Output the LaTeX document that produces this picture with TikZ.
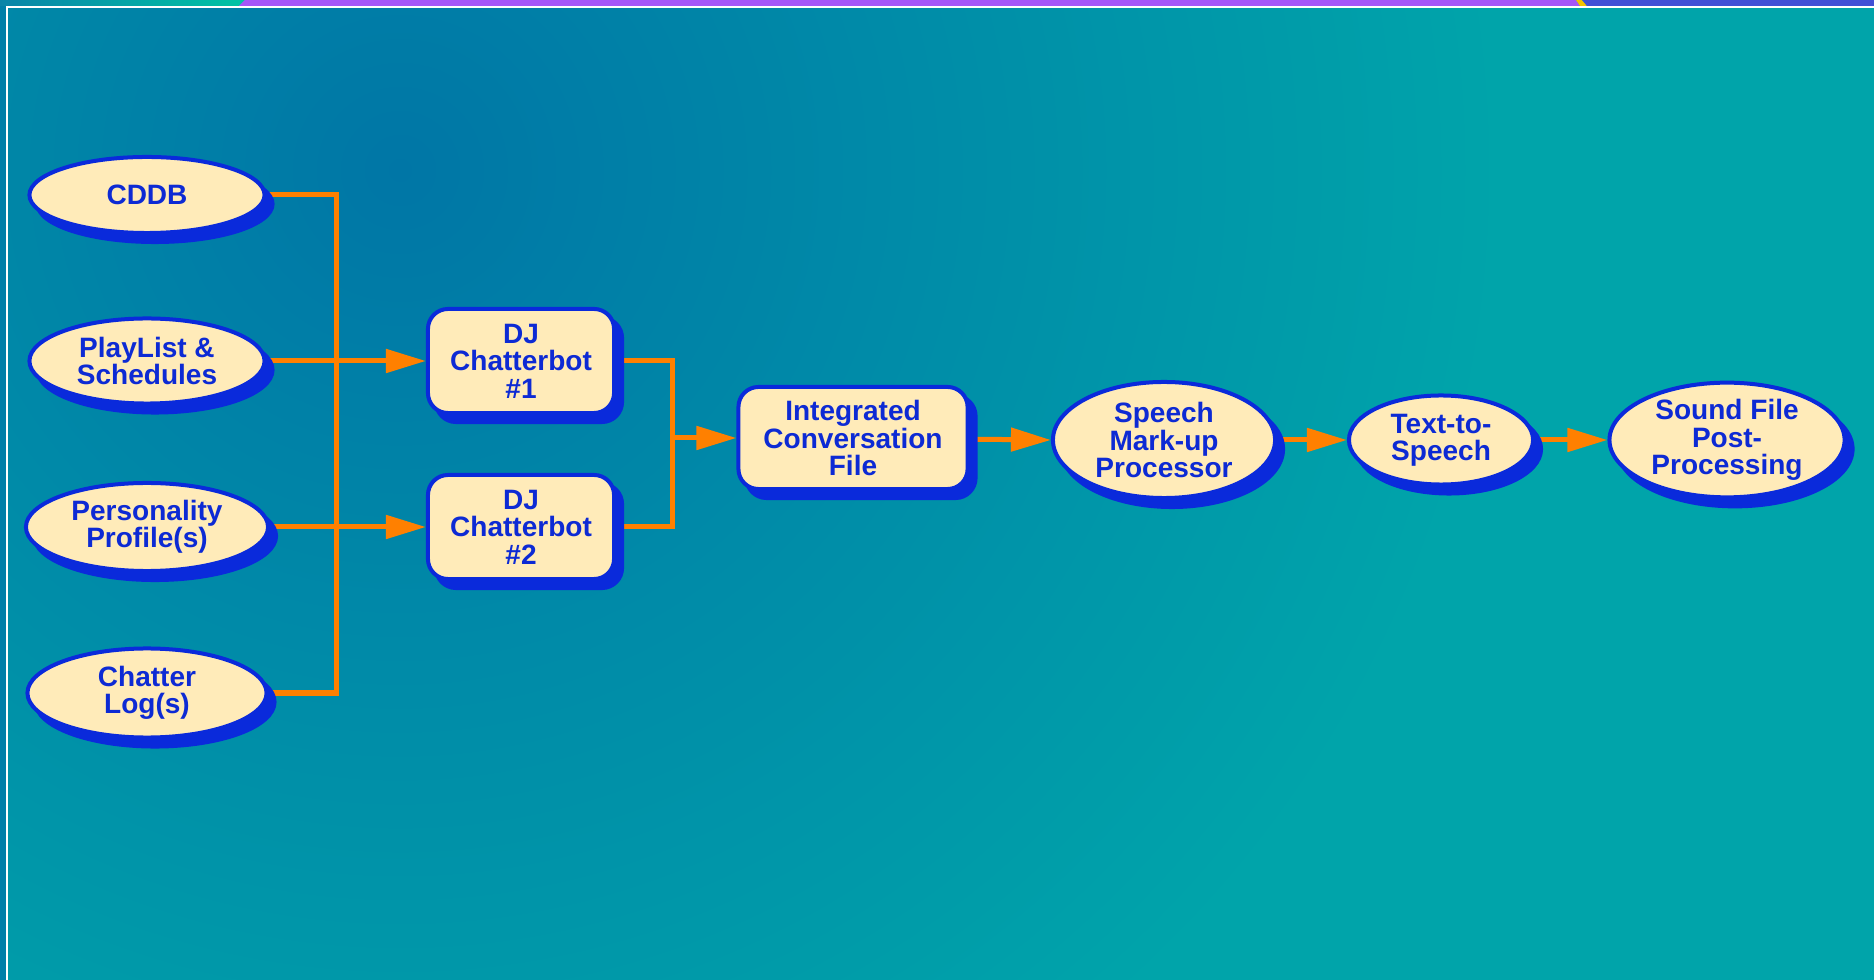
\documentclass[tikz,border=0pt]{standalone}
\usepackage{fontspec}
\setmainfont{Liberation Sans}
\usetikzlibrary{shapes.geometric,shadows,arrows.meta}
\definecolor{bgdark}{HTML}{0076A6}
\definecolor{bgteal}{HTML}{00A4AA}
\definecolor{cream}{HTML}{FFEBB9}
\definecolor{nblue}{HTML}{0A2ADB}
\definecolor{tblue}{HTML}{0D2AD4}
\definecolor{connc}{HTML}{FF8000}
\definecolor{stripteal}{HTML}{00C4A4}
\definecolor{stripblueA}{HTML}{0A84A8}
\definecolor{strippurple}{HTML}{A656F8}
\definecolor{stripblue}{HTML}{4150D6}
\definecolor{stripyellow}{HTML}{F5C400}
\definecolor{leftband}{HTML}{007FA8}
\pgfdeclarelayer{bg}
\pgfdeclarelayer{wires}
\pgfsetlayers{bg,wires,main}
\tikzset{
  lbl/.style={text=tblue, font=\bfseries\fontsize{7.97pt}{7.8pt}\selectfont, align=center, inner sep=0pt},
  nodebase/.style={lbl, draw=nblue, line width=0.04cm, fill=cream,
     drop shadow={shadow xshift=0.08cm, shadow yshift=-0.09cm, fill=nblue, draw=nblue, line width=0.04cm, opacity=1}},
  oval/.style={nodebase, ellipse},
  rbox/.style={nodebase, rectangle, rounded corners=0.2cm},
  wire/.style={draw=connc, line width=0.05cm},
  arrowwire/.style={wire, -{Triangle[length=0.40cm,width=0.23cm]}},
}
\begin{document}
\begin{tikzpicture}[x=0.01cm,y=-0.01cm]
\useasboundingbox (0,0) rectangle (1874,980);
% nodes
\node[oval, minimum width=2.35cm, minimum height=0.76cm] (cddb) at (147,195) {CDDB};
\node[oval, minimum width=2.35cm, minimum height=0.85cm] (play) at (147,361) {PlayList \&\\Schedules};
\node[oval, minimum width=2.42cm, minimum height=0.88cm] (pers) at (147,527) {Personality\\Profile(s)};
\node[oval, minimum width=2.39cm, minimum height=0.89cm] (chat) at (147,693) {Chatter\\Log(s)};
\node[rbox, minimum width=1.86cm, minimum height=1.04cm] (dj1) at (521,361) {DJ\\Chatterbot\\\#1};
\node[rbox, minimum width=1.86cm, minimum height=1.04cm] (dj2) at (521,527) {DJ\\Chatterbot\\\#2};
\node[rbox, minimum width=2.29cm, minimum height=1.02cm] (icf) at (853,438) {Integrated\\Conversation\\File};
\node[oval, minimum width=2.22cm, minimum height=1.16cm] (speech) at (1164,440) {Speech\\Mark-up\\Processor};
\node[oval, minimum width=1.84cm, minimum height=0.89cm] (tts) at (1441,440) {Text-to-\\Speech};
\node[oval, minimum width=2.35cm, minimum height=1.13cm] (sound) at (1727,440) {Sound File\\Post-\\Processing};
% background
\begin{pgfonlayer}{bg}
  \fill[bgteal] (0,0) rectangle (1874,980);
  \begin{scope}
    \clip (0,0) rectangle (1874,980);
    \shade[inner color=bgdark, outer color=bgteal] (400,170) circle[radius=11cm];
  \end{scope}
  \fill[leftband] (0,0) rectangle (6,980);
  \shade[left color=stripblueA, right color=stripteal] (0,0) rectangle (247,6);
  \fill[strippurple] (245,0) -- (1576,0) -- (1580,6) -- (239,6) -- cycle;
  \fill[stripyellow] (1576,0) -- (1582,0) -- (1587,6) -- (1580,6) -- cycle;
  \fill[stripblue] (1582,0) -- (1874,0) -- (1874,6) -- (1587,6) -- cycle;
  \draw[white, line width=0.025cm] (7,980) -- (7,7) -- (1874,7);
\end{pgfonlayer}
% connectors
\begin{pgfonlayer}{wires}
  \coordinate (busA) at (336,361);
  \coordinate (busB) at (336,527);
  \coordinate (busC) at (672,438);
  \draw[wire] (cddb.center) -| (busA);
  \draw[wire] (chat.center) -| (busB);
  \draw[wire] (busA) -- (busB);
  \draw[arrowwire] (play.center) -- (dj1.west);
  \draw[arrowwire] (pers.center) -- (dj2.west);
  \draw[wire] (dj1.center) -| (busC);
  \draw[wire] (dj2.center) -| (busC);
  \draw[arrowwire] (busC) -- (icf.west);
  \draw[arrowwire] (icf.center) -- (speech.west);
  \draw[arrowwire] (speech.center) -- (tts.west);
  \draw[arrowwire] (tts.center) -- (sound.west);
\end{pgfonlayer}
\end{tikzpicture}
\end{document}
